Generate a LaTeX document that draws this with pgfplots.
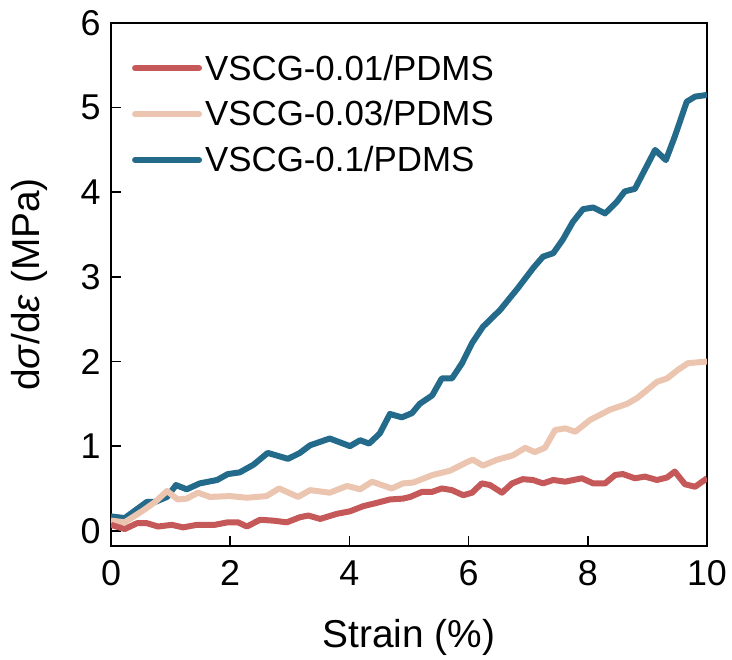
\documentclass[border=0pt]{standalone}
\usepackage{pgfplots}
\pgfplotsset{compat=1.18}
\usepackage{fontspec}
\setmainfont{Liberation Sans}
\definecolor{cred}{RGB}{197,88,88}
\definecolor{cpeach}{RGB}{235,197,175}
\definecolor{cblue}{RGB}{35,106,139}
\begin{document}
\begin{tikzpicture}
\begin{axis}[
  name=ax,
  scale only axis,
  width=596bp, height=523bp,
  xmin=0, xmax=10, ymin=-0.18, ymax=6,
  xtick={0,2,4,6,8,10}, ytick={0,1,2,3,4,5,6},
  xtick pos=bottom, ytick pos=left,
  tick align=inside,
  major tick length=10bp,
  tick style={line width=1.6bp, black},
  axis line style={line width=1.6bp},
  /pgf/number format/assume math mode=true,
  ticklabel style={font=\fontsize{36}{40}\selectfont},
  xticklabel style={yshift=-11bp},
  yticklabel style={xshift=-7bp},
  xlabel={Strain (\%)},
  ylabel={d\textit{σ}/d\textit{ε} (MPa)},
  label style={font=\fontsize{39}{44}\selectfont},
  xlabel style={at={(axis description cs:0.5,0)}, anchor=north, yshift=-70bp},
  ylabel style={at={(axis description cs:-0.136,0.5)}, anchor=center, rotate=0},
  legend style={draw=none, fill=none, at={(rel axis cs:0.035,0.945)}, anchor=north west,
    font=\fontsize{35}{40}\selectfont, row sep=13bp, inner sep=0pt,
    nodes={inner sep=3bp}},
  legend cell align=left,
  reverse legend,
  legend image code/.code={\draw[#1, line cap=round] (0bp,0bp) -- (64bp,0bp);},
  every axis plot/.append style={line width=6bp, line join=round},
]
\addplot[cblue, no markers] coordinates {
(0.00,0.17) (0.23,0.15) (0.60,0.34) (0.74,0.34) (0.94,0.40) (1.09,0.54) (1.27,0.49)
(1.49,0.56) (1.78,0.60) (1.96,0.67) (2.16,0.69) (2.39,0.78) (2.63,0.92) (2.97,0.85)
(3.17,0.92) (3.34,1.01) (3.67,1.09) (4.01,1.00) (4.18,1.07) (4.33,1.03) (4.51,1.15)
(4.68,1.38) (4.88,1.34) (5.05,1.39) (5.18,1.50) (5.39,1.60) (5.55,1.80) (5.72,1.80)
(5.89,1.98) (6.06,2.22) (6.24,2.41) (6.53,2.61) (6.83,2.87) (7.09,3.11) (7.25,3.24)
(7.42,3.28) (7.58,3.44) (7.75,3.65) (7.92,3.80) (8.09,3.82) (8.29,3.75) (8.49,3.89)
(8.62,4.01) (8.79,4.04) (8.96,4.27) (9.13,4.50) (9.31,4.38) (9.46,4.66) (9.66,5.07)
(9.80,5.13) (10.00,5.15)
};
\addlegendentry{VSCG-0.1/PDMS}
\addplot[cpeach, no markers] coordinates {
(0.00,0.12) (0.23,0.10) (0.54,0.24) (0.74,0.34) (0.94,0.47) (1.12,0.37) (1.27,0.38)
(1.46,0.45) (1.66,0.40) (2.00,0.41) (2.28,0.39) (2.61,0.41) (2.82,0.50) (3.14,0.40)
(3.34,0.48) (3.67,0.45) (3.96,0.53) (4.18,0.49) (4.38,0.58) (4.71,0.50) (4.90,0.56)
(5.07,0.57) (5.40,0.66) (5.69,0.71) (5.97,0.81) (6.07,0.84) (6.24,0.77) (6.48,0.84)
(6.74,0.89) (6.95,0.98) (7.11,0.93) (7.28,0.98) (7.45,1.19) (7.62,1.21) (7.79,1.17)
(8.04,1.31) (8.37,1.43) (8.66,1.50) (8.83,1.57) (8.99,1.66) (9.16,1.76) (9.33,1.80)
(9.51,1.90) (9.68,1.98) (10.00,2.00)
};
\addlegendentry{VSCG-0.03/PDMS}
\addplot[cred, no markers] coordinates {
(0.00,0.07) (0.23,0.02) (0.44,0.09) (0.60,0.09) (0.79,0.05) (1.02,0.07) (1.21,0.04)
(1.44,0.07) (1.74,0.07) (1.96,0.10) (2.13,0.10) (2.28,0.05) (2.50,0.13) (2.72,0.12)
(2.95,0.10) (3.17,0.16) (3.31,0.18) (3.51,0.14) (3.79,0.20) (4.01,0.23) (4.23,0.29)
(4.46,0.33) (4.68,0.37) (4.90,0.38) (5.02,0.40) (5.22,0.46) (5.39,0.46) (5.55,0.50)
(5.72,0.48) (5.91,0.42) (6.06,0.45) (6.22,0.56) (6.36,0.54) (6.56,0.45) (6.73,0.56)
(6.91,0.61) (7.08,0.60) (7.25,0.56) (7.42,0.60) (7.62,0.58) (7.90,0.62) (8.09,0.56)
(8.29,0.56) (8.46,0.66) (8.59,0.67) (8.79,0.62) (8.96,0.64) (9.16,0.60) (9.33,0.63)
(9.46,0.70) (9.63,0.55) (9.80,0.52) (10.00,0.62)
};
\addlegendentry{VSCG-0.01/PDMS}
\end{axis}
\useasboundingbox ([xshift=-111bp,yshift=-113bp]ax.south west) rectangle ([xshift=25bp,yshift=23bp]ax.north east);
\end{tikzpicture}
\end{document}
